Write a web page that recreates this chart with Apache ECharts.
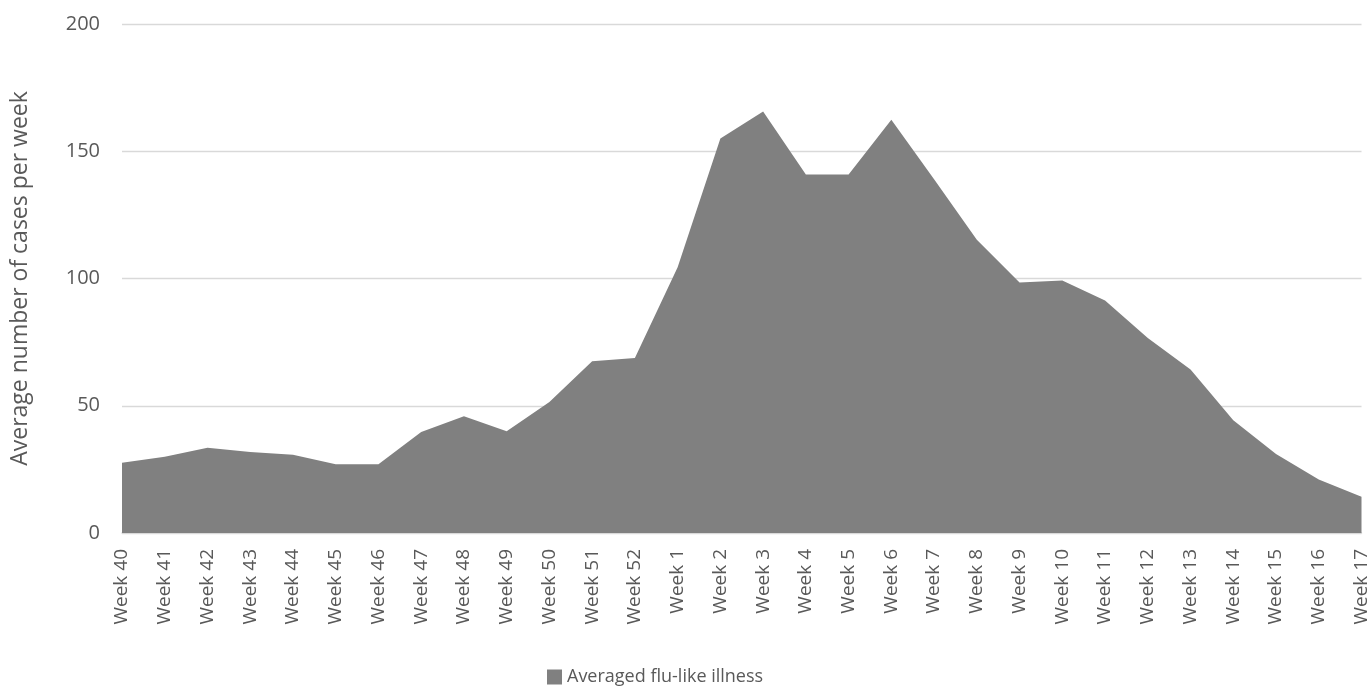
<!DOCTYPE html>
<html>
<head>
<meta charset="utf-8">
<script src="https://cdn.jsdelivr.net/npm/echarts@6/dist/echarts.min.js"></script>
<style>
  html, body { margin: 0; padding: 0; background: #fff; }
  #chart { width: 1371px; height: 686px; }
</style>
</head>
<body>
<div id="chart"></div>
<script>
// weeks of the season
var weeks = ['Week 40', 'Week 41', 'Week 42', 'Week 43', 'Week 44', 'Week 45', 'Week 46',
  'Week 47', 'Week 48', 'Week 49', 'Week 50', 'Week 51', 'Week 52',
  'Week 1', 'Week 2', 'Week 3', 'Week 4', 'Week 5', 'Week 6', 'Week 7', 'Week 8',
  'Week 9', 'Week 10', 'Week 11', 'Week 12', 'Week 13', 'Week 14', 'Week 15', 'Week 16', 'Week 17'];
// averaged flu-like illness cases
var fluCases = [27.6, 30, 33.5, 31.8, 30.7, 27, 27,
  39.7, 45.9, 40, 51.5, 67.5, 68.8,
  104.4, 155, 165.6, 140.9, 140.9, 162.4, 139, 115.2,
  98.4, 99.2, 91.4, 76.6, 64.2, 44.3, 31, 21, 14.2];
var yTicks = [0, 50, 100, 150, 200];

var txt = '#595959';
var chart = echarts.init(document.getElementById('chart'));
var option = {
  backgroundColor: '#fff',
  textStyle: { fontFamily: 'Open Sans' },
  grid: { left: 122, right: 9, top: 24, bottom: 153 },
  legend: {
    top: 668,
    left: 547,
    icon: 'rect',
    itemWidth: 15,
    itemHeight: 15,
    itemGap: 4,
    padding: 0,
    textStyle: { color: txt, fontSize: 18, fontFamily: 'Open Sans' },
    data: ['Averaged flu-like illness']
  },
  xAxis: {
    type: 'category',
    boundaryGap: false,
    data: weeks,
    axisTick: { show: false },
    axisLine: { show: true, lineStyle: { color: '#d9d9d9', width: 1.5 } },
    axisLabel: {
      color: txt,
      fontSize: 19,
      rotate: 90,
      interval: 0,
      margin: 16
    },
    splitLine: { show: false }
  },
  yAxis: {
    type: 'value',
    min: yTicks[0],
    max: yTicks[yTicks.length - 1],
    interval: 50,
    name: 'Average number of cases per week',
    nameLocation: 'middle',
    nameGap: 90,
    nameTextStyle: { color: txt, fontSize: 23 },
    axisLine: { show: false },
    axisTick: { show: false },
    axisLabel: { color: txt, fontSize: 20, margin: 22 },
    splitLine: { lineStyle: { color: '#d9d9d9', width: 1.3 } }
  },
  series: [
    {
      name: 'Averaged flu-like illness',
      type: 'line',
      data: fluCases,
      symbol: 'none',
      smooth: false,
      lineStyle: { width: 0 },
      itemStyle: { color: '#808080' },
      areaStyle: { color: '#808080', opacity: 1 }
    }
  ]
};
chart.setOption(option);
</script>
</body>
</html>
